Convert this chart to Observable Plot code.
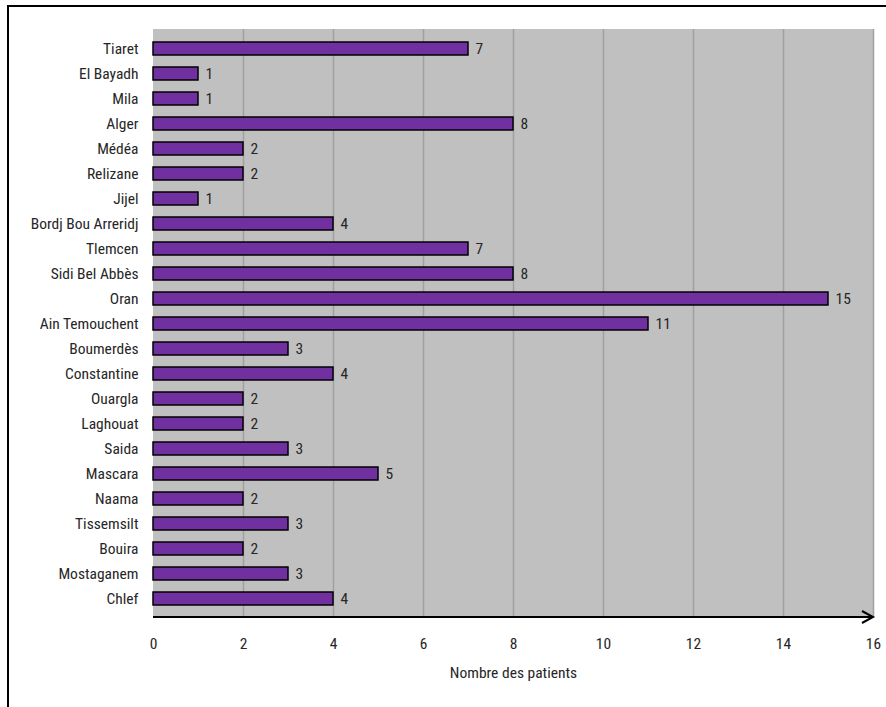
<!DOCTYPE html>
<html><head><meta charset="utf-8">
<script src="https://cdn.jsdelivr.net/npm/d3@7"></script>
<script src="https://cdn.jsdelivr.net/npm/@observablehq/plot@0.6"></script>
<style>
html,body{margin:0;padding:0;background:#fff;overflow:hidden;width:886px;height:707px;}
#wrap{position:relative;width:886px;height:707px;}
#border{position:absolute;left:7px;top:5px;width:1000px;height:1000px;border:2px solid #000;box-sizing:border-box;pointer-events:none;}
svg{font-family:"Liberation Sans Narrow","Roboto Condensed","Open Sans",sans-serif;}
</style></head>
<body><div id="wrap"><div id="border"></div></div>
<script>
const regions = ["Tiaret","El Bayadh","Mila","Alger","Médéa","Relizane","Jijel","Bordj Bou Arreridj","Tlemcen","Sidi Bel Abbès","Oran","Ain Temouchent","Boumerdès","Constantine","Ouargla","Laghouat","Saida","Mascara","Naama","Tissemsilt","Bouira","Mostaganem","Chlef"];
const patients = [7,1,1,8,2,2,1,4,7,8,15,11,3,4,2,2,3,5,2,3,2,3,4];
const xTicks = [0,2,4,6,8,10,12,14,16];
const xLabel = "Nombre des patients";

const data = regions.map((r,i)=>({region:r, n:patients[i]}));
const W = 886, H = 707, mL = 153, mR = 13, mT = 29, mB = 90;
const FS = 15.5;

const plot = Plot.plot({
  width: W, height: H,
  marginLeft: mL, marginRight: mR, marginTop: mT, marginBottom: mB,
  style: {fontSize: FS + "px", color: "#262626", background: "transparent"},
  x: {domain: [0,16]},
  y: {domain: regions, padding: 0.48},
  marks: [
    Plot.frame({fill: "#c0c0c0", stroke: "#c0c0c0"}),
    Plot.ruleX(xTicks.slice(1), {stroke: "#a0a0a0", strokeWidth: 1.5}),
    Plot.barX(data, {x: "n", y: "region", fill: "#7030a0", stroke: "#000", strokeWidth: 1.5}),
    Plot.text(data, {x: "n", y: "region", text: d => String(d.n), textAnchor: "start", dx: 7, fill: "#262626", fontSize: FS}),
    Plot.axisY({tickSize: 0, tickPadding: 15, label: null, fontSize: FS}),
    Plot.axisX({ticks: xTicks, tickSize: 0, tickPadding: 20, tickFormat: d => String(d), label: xLabel, labelAnchor: "center", labelArrow: "none", labelOffset: 60, fontSize: FS})
  ]
});

// axis line with open arrow head at the end of the x scale
const x = plot.scale("x");
const svg = d3.select(plot);
const yb = H - mB;
const x0 = x.apply(0), x1 = x.apply(16);
svg.append("line").attr("x1", x0).attr("x2", x1).attr("y1", yb).attr("y2", yb)
  .attr("stroke", "#000").attr("stroke-width", 2);
svg.append("path").attr("d", `M${x1-11},${yb-6}L${x1},${yb}L${x1-11},${yb+6}`)
  .attr("fill", "none").attr("stroke", "#000").attr("stroke-width", 2);

document.getElementById("wrap").prepend(plot);
plot.style.position = "absolute"; plot.style.left = "0"; plot.style.top = "0";
</script>
</body></html>
